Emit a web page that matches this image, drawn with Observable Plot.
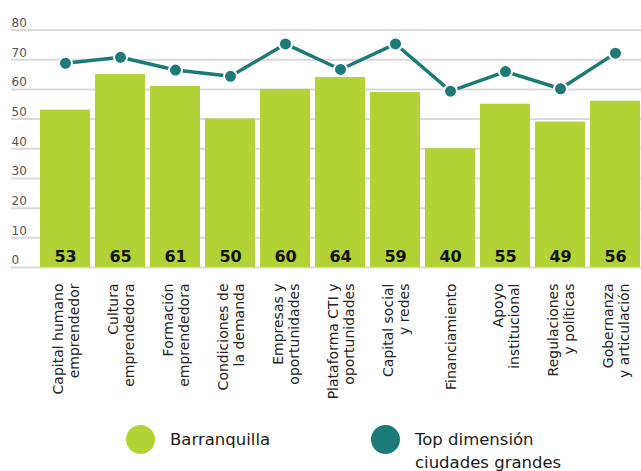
<!DOCTYPE html>
<html>
<head>
<meta charset="utf-8">
<script src="https://cdn.jsdelivr.net/npm/d3@7"></script>
<script src="https://cdn.jsdelivr.net/npm/@observablehq/plot@0.6"></script>
<style>
  body { margin: 0; background: #fff; font-family: "DejaVu Sans", sans-serif; }
  #legend { position: relative; width: 641px; height: 71px; overflow: hidden; }
  .sw { position: absolute; width: 29px; height: 29px; border-radius: 50%; }
  .lt { position: absolute; font-size: 16.5px; color: #1a1a1a; line-height: 23px; }
</style>
</head>
<body>
<div id="chart"></div>
<div id="legend">
  <div class="sw" style="left:126px; top:25px; background:#b3d235;"></div>
  <div class="lt" style="left:170px; top:28px;">Barranquilla</div>
  <div class="sw" style="left:371px; top:25px; background:#1c7a78;"></div>
  <div class="lt" style="left:415px; top:28px;">Top dimensión<br>ciudades grandes</div>
</div>
<script>
const categories = [
  "Capital humano\nemprendedor",
  "Cultura\nemprendedora",
  "Formación\nemprendedora",
  "Condiciones de\nla demanda",
  "Empresas y\noportunidades",
  "Plataforma CTI y\noportunidades",
  "Capital social\ny redes",
  "Financiamiento",
  "Apoyo\ninstitucional",
  "Regulaciones\ny políticas",
  "Gobernanza\ny articulación"
];
const barranquilla = [53, 65, 61, 50, 60, 64, 59, 40, 55, 49, 56];
const topCiudades = [68.8, 70.8, 66.5, 64.4, 75.3, 66.7, 75.3, 59.4, 66, 60.2, 72.2];
const yTicks = [0, 10, 20, 30, 40, 50, 60, 70, 80];

const data = categories.map((c, i) => ({cat: c, b: barranquilla[i], t: topCiudades[i]}));

const green = "#b3d235";
const teal = "#1c7a78";

const chart = Plot.plot({
  width: 641,
  height: 400,
  marginTop: 29.5,
  marginBottom: 133,
  marginLeft: 11,
  marginRight: 0,
  style: {fontFamily: "DejaVu Sans, sans-serif", background: "#fff"},
  x: {domain: categories, range: [36.4, 643.6], paddingInner: 0.094, paddingOuter: 0.047, axis: null},
  y: {domain: [0, 80], axis: null},
  marks: [
    Plot.ruleY(yTicks, {stroke: "#d9d9d9", strokeWidth: 2}),
    Plot.text(yTicks, {y: d => d, text: d => String(d), frameAnchor: "left", textAnchor: "start", dy: -7, fontSize: 12, fill: "#555"}),
    Plot.barY(data, {x: "cat", y: "b", fill: green}),
    Plot.text(data, {x: "cat", y: d => 0, text: d => String(d.b), dy: -11, fontSize: 16, fontWeight: 600, fill: "#111"}),
    Plot.line(data, {x: "cat", y: "t", stroke: teal, strokeWidth: 3.5}),
    Plot.dot(data, {x: "cat", y: "t", r: 6.5, fill: teal, stroke: "#fff", strokeWidth: 2}),
    Plot.text(data, {x: "cat", y: d => 0, text: "cat", rotate: -90, textAnchor: "end", dy: 16, fontSize: 14, lineHeight: 1.15, fill: "#222"})
  ]
});
document.getElementById("chart").append(chart);
</script>
</body>
</html>
